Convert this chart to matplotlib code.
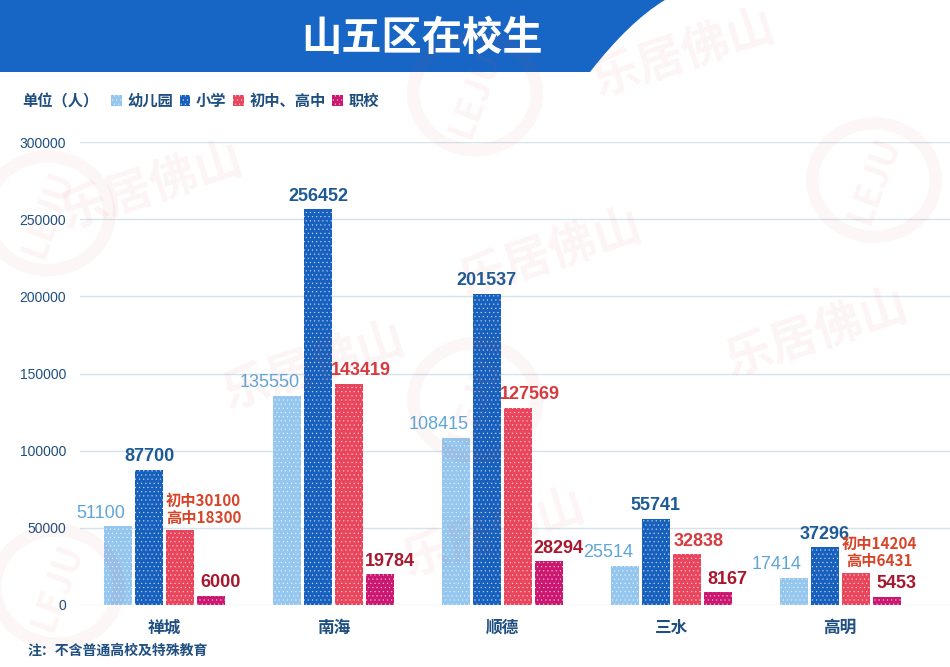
import matplotlib.pyplot as plt
import numpy as np
from matplotlib.patches import PathPatch, Ellipse
from matplotlib.path import Path

plt.rcParams['font.family'] = ['Noto Sans CJK SC', 'DejaVu Sans']
plt.rcParams['hatch.linewidth'] = 0.35

# data
districts = ['禅城', '南海', '顺德', '三水', '高明']
series_names = ['幼儿园', '小学', '初中、高中', '职校']
kindergarten = [51100, 135550, 108415, 25514, 17414]
primary = [87700, 256452, 201537, 55741, 37296]
secondary = [48400, 143419, 127569, 32838, 20635]
vocational = [6000, 19784, 28294, 8167, 5453]
# the 初中/高中 split that some bars show instead of the total
secondary_split = {0: ('30100', '18300'), 4: ('14204', '6431')}
yticks = [0, 50000, 100000, 150000, 200000, 250000, 300000]

bar_colors = ['#94c6ee', '#1760bd', '#e9465e', '#cb1770']
label_colors = ['#5fa6d8', '#1d5a96', '#d63a3f', '#a8172e']
tick_color = '#1f4f80'
num_font = ['Liberation Sans', 'Noto Sans CJK SC']

fig = plt.figure(figsize=(9.5, 6.67), dpi=100)

# watermarks
for (x, y) in [(0.16, 0.72), (0.58, 0.62), (0.72, 0.92), (0.86, 0.50), (0.33, 0.45), (0.52, 0.20)]:
    fig.text(x, y, '乐居佛山', fontsize=34, color='#e05050', alpha=0.06,
             rotation=18, ha='center', va='center', fontweight='bold')
for (x, y) in [(0.05, 0.68), (0.50, 0.40), (0.92, 0.73), (0.06, 0.12), (0.50, 0.86)]:
    fig.patches.append(Ellipse((x, y), 0.13, 0.17, transform=fig.transFigure,
                               fill=False, lw=9, ec='#e05050', alpha=0.05))
    fig.text(x, y, 'LEJU', fontsize=26, color='#e05050', alpha=0.06,
             rotation=70, ha='center', va='center', fontweight='bold')

# title banner
W, H = 950, 667
verts = [(0, H), (0, H - 72), (590, H - 72), (615, H - 40), (640, H - 15), (665, H), (0, H)]
verts = [(vx / W, vy / H) for vx, vy in verts]
codes = [Path.MOVETO, Path.LINETO, Path.LINETO, Path.CURVE4, Path.CURVE4, Path.CURVE4, Path.CLOSEPOLY]
fig.patches.append(PathPatch(Path(verts, codes), transform=fig.transFigure,
                             fc='#1766c6', ec='none', zorder=0))
fig.text(422 / W, 1 - 38 / H, '山五区在校生', fontsize=29, color='white',
         fontweight='bold', ha='center', va='center')

ax = fig.add_axes([80 / W, 62 / H, 870 / W, 463 / H])
x = np.arange(len(districts))
step = 0.183
width = 0.166
all_series = [kindergarten, primary, secondary, vocational]
bars = []
for i, vals in enumerate(all_series):
    b = ax.bar(x + (i - 1.5) * step, vals, width, color=bar_colors[i],
               edgecolor='#ffffffb0', linewidth=0, hatch='....', label=series_names[i], zorder=3)
    bars.append(b)

# value labels
dx = [-0.10, 0, 0.07, 0.06]
for i, vals in enumerate(all_series):
    for j, v in enumerate(vals):
        xc = x[j] + (i - 1.5) * step + dx[i]
        if i == 2 and j in secondary_split:
            a, b = secondary_split[j]
            ax.text(xc + 0.07, v + 3000, '初中' + a + '\n高中' + b, fontsize=11,
                    color='#d8462a', fontweight='bold', ha='center', va='bottom',
                    linespacing=1.05)
            continue
        ax.text(xc, v + 3000, str(v), fontsize=13, color=label_colors[i],
                fontweight='bold' if i > 0 else 'normal', ha='center', va='bottom',
                family=num_font)

ax.set_xlim(-0.5, 4.65)
ax.set_ylim(0, 300000)
ax.set_yticks(yticks)
ax.set_yticklabels([str(t) for t in yticks], family=num_font)
ax.set_xticks(x)
ax.set_xticklabels(districts)
ax.tick_params(axis='y', length=0, pad=10, labelsize=10, labelcolor=tick_color)
ax.tick_params(axis='x', length=0, pad=10, labelsize=12, labelcolor=tick_color)
for lab in ax.get_xticklabels():
    lab.set_fontweight('bold')
ax.grid(axis='y', color='#d6e3ec', lw=1, zorder=0)
for s in ax.spines.values():
    s.set_visible(False)
ax.patch.set_alpha(0)

fig.text(22 / W, 1 - 101 / H, '单位（人）', fontsize=11, color=tick_color,
         fontweight='bold', va='center')
leg = fig.legend(handles=bars, labels=series_names, ncol=4, frameon=False,
                 loc='center left', bbox_to_anchor=(105 / W, 1 - 101 / H),
                 handlelength=0.7, handleheight=0.7, handletextpad=0.35,
                 columnspacing=0.45, prop={'size': 11, 'weight': 'bold'},
                 labelcolor=tick_color, borderaxespad=0)

fig.text(28 / W, 1 - 651 / H, '注：不含普通高校及特殊教育', fontsize=10, color=tick_color,
         fontweight='bold', va='center')

fig.savefig('out.png', dpi=100)
